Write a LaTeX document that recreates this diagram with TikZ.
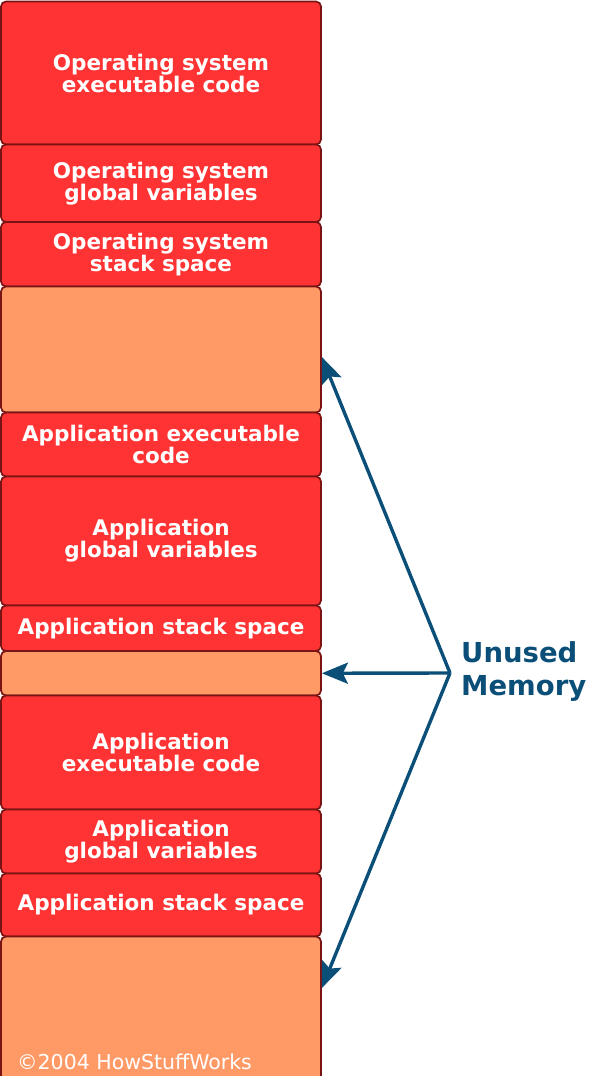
\documentclass[tikz,border=0pt]{standalone}
\usepackage{fontspec}
\setmainfont{DejaVu Sans}
\usetikzlibrary{arrows.meta}

\definecolor{usedred}{HTML}{FF3333}
\definecolor{freeorange}{HTML}{FF9966}
\definecolor{edgered}{HTML}{7A1414}
\definecolor{pointblue}{HTML}{0B4F79}

\begin{document}
\begin{tikzpicture}[
  x=1pt, y=-1pt,
  >={Stealth[length=26pt,width=21pt,inset=5pt]},
  seg/.style={rectangle, draw=edgered, line width=1.7pt, rounded corners=5pt,
              minimum width=320pt, inner sep=0pt, align=center},
  used/.style={seg, fill=usedred, text=white,
               font=\bfseries\fontsize{21.5}{22}\selectfont},
  free/.style={seg, fill=freeorange},
  ptr/.style={->, line width=3.4pt, pointblue},
]
\useasboundingbox (0,0) rectangle (596,1076);

% Operating system part of memory
\node[used, minimum height=143pt]  (oscode)  at (161,73)     {Operating system\\executable code};
\node[used, minimum height=77.5pt] (osglob)  at (161,183.25) {Operating system\\global variables};
\node[used, minimum height=64.5pt] (osstack) at (161,254.25) {Operating system\\stack space};

% first free gap
\node[free, minimum height=126pt] (free1) at (161,349.5) {};

% first application
\node[used, minimum height=64pt]   (appAcode)  at (161,444.5)  {Application executable\\code};
\node[used, minimum height=129pt]  (appAglob)  at (161,541)    {Application\\global variables};
\node[used, minimum height=45.5pt] (appAstack) at (161,628.25) {Application stack space};

% second free gap
\node[free, minimum height=44.5pt] (free2) at (161,673.25) {};

% second application
\node[used, minimum height=114pt] (appBcode)  at (161,752.5) {Application\\executable code};
\node[used, minimum height=64pt]  (appBglob)  at (161,841.5) {Application\\global variables};
\node[used, minimum height=63pt]  (appBstack) at (161,905)   {Application stack space};

% last free gap, runs off the bottom
\node[free, minimum height=148.5pt] (free3) at (161,1010.75) {};

\node[anchor=base west, inner sep=0pt, text=white,
      font=\fontsize{20.5}{22}\selectfont] (credit) at (17,1069) {©2004 HowStuffWorks};

% label and pointers
\node[anchor=west, align=left, inner sep=0pt, text=pointblue,
      font=\bfseries\fontsize{27.5}{33}\selectfont] (unused) at (461,672) {Unused\\Memory};
\coordinate (apex) at (450,673);
\draw[ptr] (apex) -- ([yshift=-7.5pt]free1.east);
\draw[ptr] (apex) -- (free2.east);
\draw[ptr] (apex) -- ([yshift=22.75pt]free3.east);

\end{tikzpicture}
\end{document}
